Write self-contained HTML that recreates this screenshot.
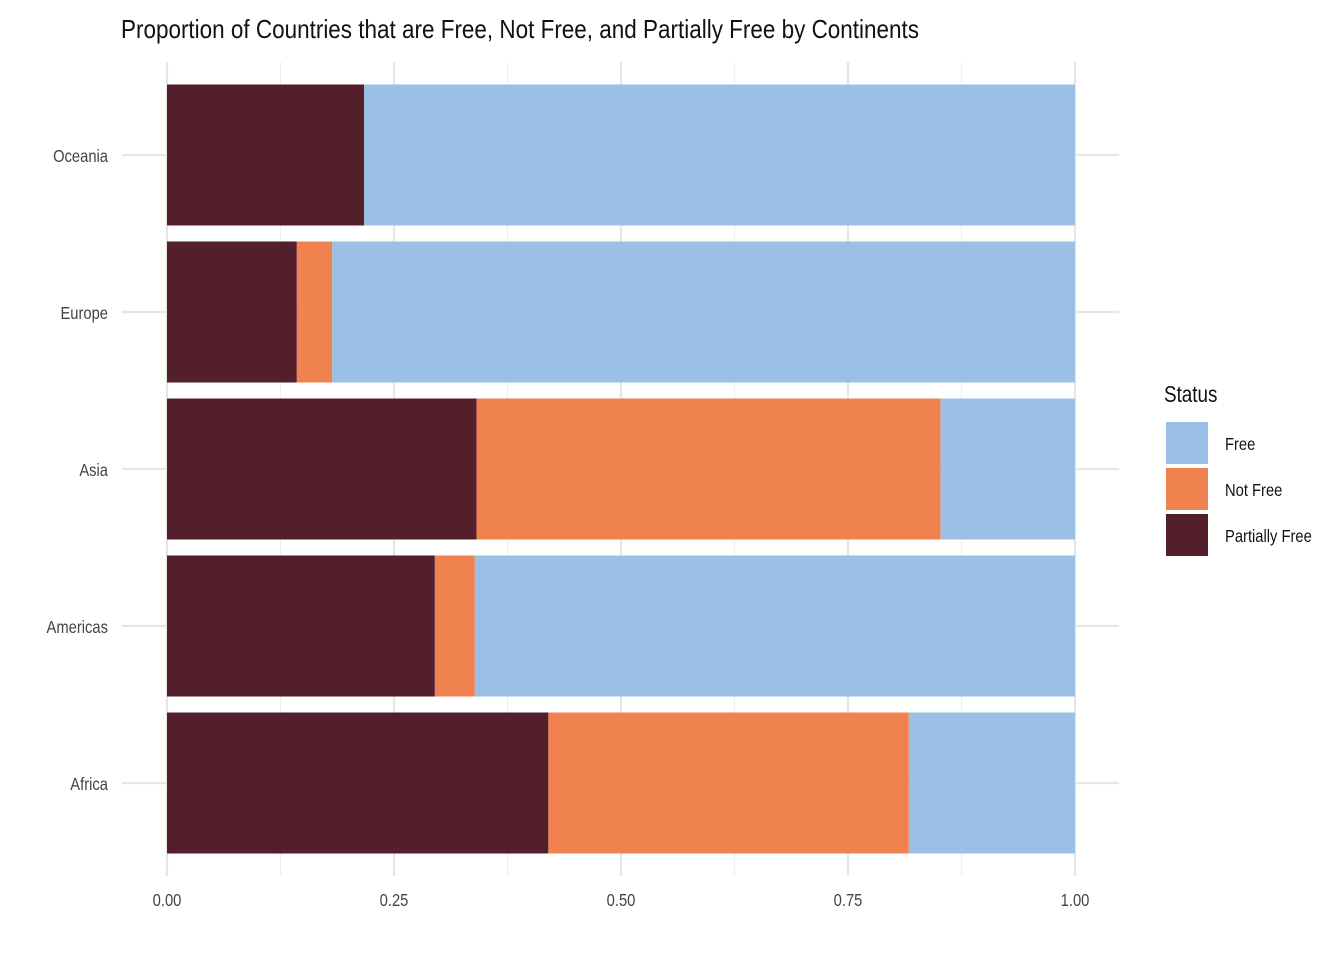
<!DOCTYPE html>
<html><head><meta charset="utf-8"><style>
body{margin:0;background:#fff;}
svg text{font-family:"Liberation Sans Narrow","Liberation Sans",sans-serif;}
</style></head><body>
<svg id="c" width="1344" height="960">
<text x="121" y="38" font-size="26" fill="#111" textLength="798" lengthAdjust="spacingAndGlyphs">Proportion of Countries that are Free, Not Free, and Partially Free by Continents</text>
<g id="grid"></g><g id="bars"></g><g id="axes"></g>
<text transform="translate(1164,402) scale(0.82,1)" font-size="23" fill="#111">Status</text>
<g id="legend"></g>
</svg>
<script>
const categories=["Africa","Americas","Asia","Europe","Oceania"];
const partiallyFree=[0.42,0.295,0.341,0.143,0.217];
const notFree=[0.397,0.044,0.511,0.039,0];
const free=[0.183,0.661,0.148,0.818,0.783];
const xTicks=[0,0.25,0.5,0.75,1];
const xTickLabels=["0.00","0.25","0.50","0.75","1.00"];
const seriesNames=["Free","Not Free","Partially Free"];
const colors={"Free":"#9bc0e6","Not Free":"#ef824f","Partially Free":"#531f2b"};
const NS="http://www.w3.org/2000/svg";
const x=v=>167+v*908;
const band=157, yc=i=>783-i*band;
function mk(t,a,p){const e=document.createElementNS(NS,t);for(const k in a)e.setAttribute(k,a[k]);p.appendChild(e);return e;}
const sc=(px,py)=>'translate('+px+','+py+') scale(0.82,1)';
const grid=document.getElementById('grid'),bars=document.getElementById('bars'),axes=document.getElementById('axes'),leg=document.getElementById('legend');
for(let i=0;i<xTicks.length;i++){
 const l=mk('line',{x1:x(xTicks[i]),x2:x(xTicks[i]),y1:62,y2:876,stroke:'#e6e6e6','stroke-width':2.2},grid);
 
 
 if(i<xTicks.length-1){const m=(xTicks[i]+xTicks[i+1])/2;
 const n=mk('line',{x1:x(m),x2:x(m),y1:62,y2:876,stroke:'#efefef','stroke-width':1.1},grid);
 
 }
 const t=mk('text',{transform:sc(x(xTicks[i]),906),'font-size':18,fill:'#444','text-anchor':'middle'},axes);t.textContent=xTickLabels[i];
 
 
}
categories.forEach((c,i)=>{
 const g=mk('line',{x1:122,x2:1119,y1:yc(i),y2:yc(i),stroke:'#e6e6e6','stroke-width':2.2},grid);
 
 
 const t=mk('text',{transform:sc(108,yc(i)+7),'font-size':18,fill:'#444','text-anchor':'end'},axes);t.textContent=c;
 
 
 let s=0;
 [["Partially Free",partiallyFree[i]],["Not Free",notFree[i]],["Free",free[i]]].forEach(([n,v])=>{
  if(v<=0)return;
  const r=mk('rect',{x:x(s),y:yc(i)-70.5,width:x(s+v)-x(s),height:141,fill:colors[n]},bars);
  
  
  s+=v;});
});
seriesNames.forEach((n,i)=>{
 const y=422+i*46;
 const r=mk('rect',{x:1166,y:y,width:42,height:42,fill:colors[n]},leg);
 
 
 const t=mk('text',{transform:sc(1225,y+28),'font-size':18,fill:'#111'},leg);t.textContent=n;
 
 
});
</script>
</body></html>
